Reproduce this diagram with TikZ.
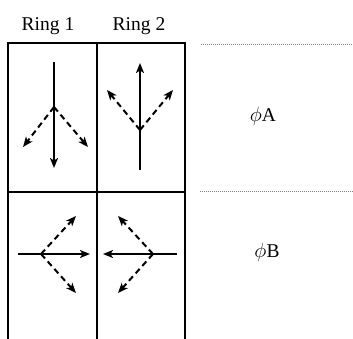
\documentclass[tikz,border=0pt]{standalone}
\usepackage{fontspec}
\setmainfont{Liberation Serif}
\usetikzlibrary{arrows.meta}

\begin{document}
\begin{tikzpicture}[x=1pt, y=-1pt,
    grid/.style={line width=1.5pt},
    sep/.style={line width=0.7pt, gray, dash pattern=on 1pt off 1pt},
    flow/.style={line width=2pt, -{Stealth[length=10pt, width=8pt, inset=2.5pt]}},
    alt/.style={flow, dash pattern=on 6pt off 4pt},
    hdr/.style={font=\fontsize{19.5}{22}\selectfont, anchor=base, inner sep=0pt},
    phase/.style={font=\fontsize{19.5}{22}\selectfont, anchor=base, inner sep=0pt},
]
\useasboundingbox (0,0) rectangle (353,339);

% Ring table
\draw[grid] (8,339) -- (8,43) -- (185,43) -- (185,339);
\draw[grid] (97,43) -- (97,339);
\draw[grid] (8,192) -- (185,192);

% headers
\node[hdr] (ring1) at (48,31) {Ring 1};
\node[hdr] (ring2) at (139,31) {Ring 2};

% phase rows
\draw[sep] (201,44) -- (353,44);
\draw[sep] (200,191) -- (353,191);
\node[phase] (phA) at (263,122) {$\phi$A};
\node[phase] (phB) at (267,257) {$\phi$B};

% phase A, ring 1
\coordinate (a1s) at (54,62);
\coordinate (a1e) at (54,168);
\coordinate (a1c) at (54,107);
\coordinate (a1l) at (23,147);
\coordinate (a1r) at (88,147);
\draw[flow] (a1s) -- (a1e);
\draw[alt] (a1c) -- (a1l);
\draw[alt] (a1c) -- (a1r);

% phase A, ring 2
\coordinate (a2s) at (140,170);
\coordinate (a2e) at (140,63);
\coordinate (a2c) at (140,130);
\coordinate (a2l) at (107,90);
\coordinate (a2r) at (173,90);
\draw[flow] (a2s) -- (a2e);
\draw[alt] (a2c) -- (a2l);
\draw[alt] (a2c) -- (a2r);

% phase B, ring 1
\coordinate (b1s) at (18,254);
\coordinate (b1e) at (90,254);
\coordinate (b1c) at (41,254);
\coordinate (b1u) at (76,216);
\coordinate (b1d) at (76,293);
\draw[flow] (b1s) -- (b1e);
\draw[alt] (b1c) -- (b1u);
\draw[alt] (b1c) -- (b1d);

% phase B, ring 2
\coordinate (b2s) at (177,254);
\coordinate (b2e) at (103,254);
\coordinate (b2c) at (153,254);
\coordinate (b2u) at (118,216);
\coordinate (b2d) at (118,293);
\draw[flow] (b2s) -- (b2e);
\draw[alt] (b2c) -- (b2u);
\draw[alt] (b2c) -- (b2d);

\end{tikzpicture}
\end{document}
